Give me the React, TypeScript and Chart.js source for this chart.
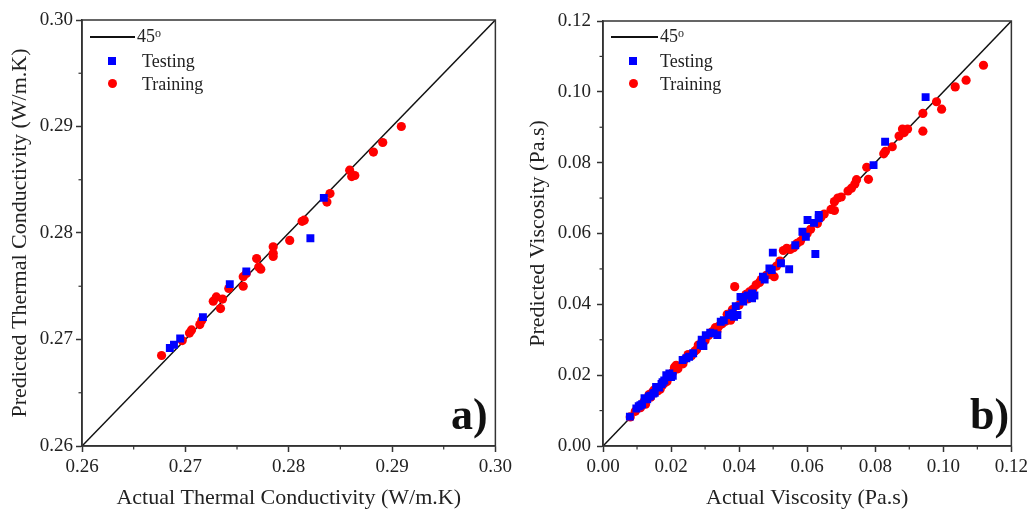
import React, { useEffect, useRef } from 'react';
import { Chart, registerables } from 'chart.js';

Chart.register(...registerables);

// ---------- Panel a) Thermal conductivity ----------
const tcTrainActual = [0.2677, 0.2697, 0.2704, 0.2706, 0.2714, 0.2716, 0.2727, 0.2730, 0.2734, 0.2736, 0.2742, 0.2756, 0.2756, 0.2759, 0.2769, 0.2771, 0.2773, 0.2785, 0.2785, 0.2785, 0.2801, 0.2813, 0.2815, 0.2837, 0.2840, 0.2859, 0.2861, 0.2864, 0.2882, 0.2891, 0.2909];
const tcTrainPred = [0.2685, 0.2699, 0.2706, 0.2709, 0.2714, 0.2718, 0.2736, 0.2740, 0.2729, 0.2738, 0.2748, 0.2759, 0.2750, 0.2762, 0.2776, 0.2768, 0.2766, 0.2787, 0.2781, 0.2778, 0.2793, 0.2811, 0.2812, 0.2829, 0.2837, 0.2859, 0.2853, 0.2854, 0.2876, 0.2885, 0.2900];
const tcTestActual = [0.2685, 0.2689, 0.2695, 0.2717, 0.2743, 0.2759, 0.2821, 0.2834];
const tcTestPred = [0.2692, 0.2695, 0.2701, 0.2721, 0.2752, 0.2764, 0.2795, 0.2833];
const tcRange = [0.26, 0.30];
const tcMinorTicks = [0.265, 0.275, 0.285, 0.295];

// ---------- Panel b) Viscosity ----------
const viTrainActual = [0.008, 0.0095, 0.011, 0.012, 0.0135, 0.014, 0.015, 0.016, 0.0175, 0.018, 0.019, 0.0205, 0.021, 0.022, 0.0235, 0.024, 0.025, 0.026, 0.027, 0.028, 0.029, 0.030, 0.031, 0.032, 0.033, 0.034, 0.035, 0.036, 0.0365, 0.038, 0.0387, 0.040, 0.041, 0.042, 0.043, 0.044, 0.045, 0.046, 0.047, 0.048, 0.049, 0.0503, 0.051, 0.052, 0.053, 0.054, 0.055, 0.056, 0.057, 0.058, 0.059, 0.060, 0.061, 0.063, 0.064, 0.065, 0.067, 0.068, 0.068, 0.069, 0.070, 0.072, 0.073, 0.074, 0.0745, 0.0775, 0.078, 0.0825, 0.083, 0.085, 0.087, 0.088, 0.0885, 0.0895, 0.094, 0.094, 0.098, 0.0995, 0.1035, 0.1067, 0.1118, 0.0125, 0.0145, 0.0168, 0.0188, 0.0215, 0.0275, 0.0335, 0.0375, 0.0425, 0.0465];
const viTrainPred = [0.0082, 0.0098, 0.0108, 0.0125, 0.0145, 0.0138, 0.0158, 0.0155, 0.0172, 0.0178, 0.0192, 0.0208, 0.0222, 0.0218, 0.0232, 0.0245, 0.0258, 0.0255, 0.0268, 0.0285, 0.0292, 0.0298, 0.0312, 0.0322, 0.0334, 0.0338, 0.0345, 0.0352, 0.0372, 0.0385, 0.0450, 0.0398, 0.0412, 0.0428, 0.0435, 0.0442, 0.0455, 0.0462, 0.0475, 0.0482, 0.0485, 0.0478, 0.0508, 0.0522, 0.0552, 0.0558, 0.0555, 0.0560, 0.0572, 0.0578, 0.0592, 0.0600, 0.0612, 0.0628, 0.0645, 0.0655, 0.0668, 0.0690, 0.0665, 0.0700, 0.0703, 0.0720, 0.0728, 0.0740, 0.0752, 0.0787, 0.0753, 0.0825, 0.0832, 0.0845, 0.0875, 0.0895, 0.0885, 0.0895, 0.0939, 0.0889, 0.0972, 0.0951, 0.1014, 0.1033, 0.1075, 0.0118, 0.0152, 0.0160, 0.0182, 0.0228, 0.0272, 0.0325, 0.0355, 0.0415, 0.0470];
const viTestActual = [0.0079, 0.0098, 0.0105, 0.0115, 0.0122, 0.013, 0.014, 0.0148, 0.0156, 0.0165, 0.0172, 0.018, 0.0186, 0.0195, 0.0205, 0.0234, 0.0253, 0.0265, 0.0287, 0.029, 0.0302, 0.0315, 0.0336, 0.0346, 0.0355, 0.037, 0.038, 0.039, 0.0395, 0.0404, 0.0425, 0.0438, 0.0438, 0.0445, 0.047, 0.0475, 0.0489, 0.0496, 0.0499, 0.0523, 0.0547, 0.0565, 0.0586, 0.0596, 0.0601, 0.062, 0.0634, 0.0624, 0.0634, 0.0795, 0.0829, 0.0948, 0.0110, 0.0135, 0.0152, 0.0175, 0.0200, 0.0245, 0.0295, 0.0325, 0.0385, 0.0412];
const viTestPred = [0.0083, 0.0106, 0.0112, 0.0118, 0.0135, 0.0132, 0.0142, 0.0148, 0.0167, 0.0165, 0.0175, 0.0185, 0.0200, 0.0205, 0.0198, 0.0243, 0.0252, 0.0262, 0.0285, 0.0300, 0.0313, 0.0320, 0.0313, 0.0351, 0.0355, 0.0370, 0.0375, 0.0395, 0.0370, 0.0421, 0.0425, 0.0431, 0.0417, 0.0425, 0.0478, 0.0470, 0.0501, 0.0497, 0.0546, 0.0516, 0.0499, 0.0567, 0.0605, 0.0591, 0.0638, 0.0630, 0.0643, 0.0542, 0.0652, 0.0793, 0.0859, 0.0985, 0.0115, 0.0140, 0.0150, 0.0180, 0.0195, 0.0248, 0.0282, 0.0318, 0.0365, 0.0408];
const viRange = [0.0, 0.12];
const viMinorTicks = [0.01, 0.03, 0.05, 0.07, 0.09, 0.11];

const SERIF = '"Liberation Serif", "Times New Roman", serif';
const INK = '#222';
const AXIS = '#333';

const framePlugin = {
  id: 'frame',
  afterDraw(chart: any, _args: any, opts: any) {
    const { ctx, chartArea: a, scales } = chart;
    ctx.save();
    ctx.strokeStyle = AXIS;
    ctx.lineWidth = 1.5;
    ctx.strokeRect(a.left, a.top, a.right - a.left, a.bottom - a.top);
    ctx.lineWidth = 1.2;
    for (const v of opts.minor || []) {
      const px = scales.x.getPixelForValue(v);
      ctx.beginPath();
      ctx.moveTo(px, a.bottom);
      ctx.lineTo(px, a.bottom + 3.5);
      ctx.stroke();
      const py = scales.y.getPixelForValue(v);
      ctx.beginPath();
      ctx.moveTo(a.left, py);
      ctx.lineTo(a.left - 3.5, py);
      ctx.stroke();
    }
    ctx.restore();
  },
};

type PanelProps = {
  left: number;
  xs: number[]; ys: number[]; tx: number[]; ty: number[];
  range: number[]; step: number; minor: number[];
  xTitle: string; yTitle: string;
  padLeft: number; padRight: number; padTop: number;
  yLabelPad: number; yTitlePad: number;
};

function Panel(p: PanelProps) {
  const ref = useRef<HTMLCanvasElement>(null);
  useEffect(() => {
    if (!ref.current) return;
    const train = p.xs.map((x, i) => ({ x, y: p.ys[i] }));
    const test = p.tx.map((x, i) => ({ x, y: p.ty[i] }));
    const diag = p.range.map((v) => ({ x: v, y: v }));
    const tickFont = { family: SERIF, size: 19 };
    const titleFont = { family: SERIF, size: 22 };
    const chart = new Chart(ref.current, {
      type: 'scatter',
      data: {
        datasets: [
          { label: '45°', data: diag, showLine: true, borderColor: '#111', borderWidth: 1.5, pointRadius: 0, order: 3 },
          { label: 'Training', data: train, backgroundColor: '#ff0000', borderWidth: 0, pointRadius: 4.6, pointStyle: 'circle', order: 2 },
          { label: 'Testing', data: test, backgroundColor: '#0000ff', borderWidth: 0, pointRadius: 5.6, pointStyle: 'rect', order: 1 },
        ],
      },
      options: {
        animation: false,
        responsive: false,
        layout: { padding: { left: 0, right: p.padRight, top: p.padTop, bottom: 0 } },
        plugins: { legend: { display: false }, tooltip: { enabled: false }, frame: { minor: p.minor } } as any,
        scales: {
          x: {
            type: 'linear', min: p.range[0], max: p.range[1],
            ticks: { stepSize: p.step, callback: (v: any) => Number(v).toFixed(2), font: tickFont, color: INK, padding: 4, maxRotation: 0, autoSkip: false },
            grid: { drawOnChartArea: false, drawTicks: true, tickLength: 6, tickColor: AXIS, tickWidth: 1.5 },
            border: { color: AXIS, width: 1.5 },
            title: { display: true, text: p.xTitle, font: titleFont, color: INK, padding: { top: 0, bottom: 1 } },
            afterFit: (s: any) => { s.height = 66; },
          },
          y: {
            type: 'linear', min: p.range[0], max: p.range[1],
            ticks: { stepSize: p.step, callback: (v: any) => Number(v).toFixed(2), font: tickFont, color: INK, padding: p.yLabelPad, autoSkip: false },
            grid: { drawOnChartArea: false, drawTicks: true, tickLength: 6, tickColor: AXIS, tickWidth: 1.5 },
            border: { color: AXIS, width: 1.5 },
            title: { display: true, text: p.yTitle, font: titleFont, color: INK, padding: { top: p.yTitlePad, bottom: 0 } },
            afterFit: (s: any) => { s.width = p.padLeft; },
          },
        },
      } as any,
      plugins: [framePlugin as any],
    });
    return () => chart.destroy();
  }, []);
  return (
    <canvas ref={ref} width={516} height={512}
      style={{ position: 'absolute', left: p.left, top: 0, width: 516, height: 512 }} />
  );
}

function Legend({ x0, lineEnd, marker, text }: { x0: number; lineEnd: number; marker: number; text: number }) {
  const txt: React.CSSProperties = { position: 'absolute', fontFamily: SERIF, fontSize: 18, color: INK, lineHeight: '20px', whiteSpace: 'nowrap' };
  return (
    <>
      <div style={{ position: 'absolute', left: x0, top: 36, width: lineEnd - x0, height: 1.5, background: '#111' }} />
      <div style={{ ...txt, left: lineEnd + 2, top: 26 }}>45<sup style={{ fontSize: 12, verticalAlign: 'top', position: 'relative', top: -3 }}>o</sup></div>
      <div style={{ position: 'absolute', left: marker - 4, top: 57, width: 8, height: 8, background: '#0000ff' }} />
      <div style={{ ...txt, left: text, top: 51 }}>Testing</div>
      <div style={{ position: 'absolute', left: marker - 4.5, top: 79, width: 9, height: 9, borderRadius: '50%', background: '#ff0000' }} />
      <div style={{ ...txt, left: text, top: 74 }}>Training</div>
    </>
  );
}

export default function App() {
  const tag: React.CSSProperties = { position: 'absolute', fontFamily: SERIF, fontWeight: 'bold', fontSize: 44, lineHeight: '44px', color: '#111', top: 393 };
  return (
    <div style={{ position: 'fixed', left: 0, top: 0, width: 1032, height: 512, background: '#fff', overflow: 'hidden' }}>
      <Panel left={0} xs={tcTrainActual} ys={tcTrainPred} tx={tcTestActual} ty={tcTestPred}
        range={tcRange} step={0.01} minor={tcMinorTicks}
        xTitle="Actual Thermal Conductivity (W/m.K)" yTitle="Predicted Thermal Conductivity (W/m.K)"
        padLeft={82} padRight={20} padTop={20} yLabelPad={3} yTitlePad={7} />
      <Panel left={516} xs={viTrainActual} ys={viTrainPred} tx={viTestActual} ty={viTestPred}
        range={viRange} step={0.02} minor={viMinorTicks}
        xTitle="Actual Viscosity (Pa.s)" yTitle="Predicted Viscosity (Pa.s)"
        padLeft={87} padRight={17} padTop={21} yLabelPad={6} yTitlePad={9} />
      <Legend x0={90} lineEnd={135} marker={112} text={142} />
      <Legend x0={611} lineEnd={658} marker={633} text={660} />
      <div style={{ ...tag, left: 451 }}>a)</div>
      <div style={{ ...tag, left: 970 }}>b)</div>
    </div>
  );
}
